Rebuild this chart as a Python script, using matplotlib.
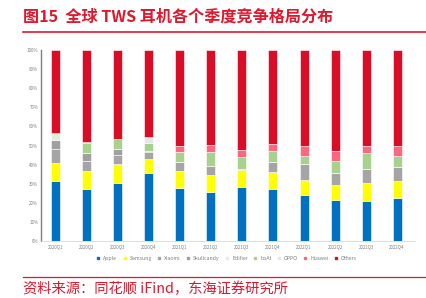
import matplotlib
matplotlib.use('Agg')
import matplotlib.pyplot as plt
import numpy as np
from matplotlib.lines import Line2D

plt.rcParams['font.family'] = ['Noto Sans CJK SC', 'DejaVu Sans']

quarters = ['2020Q1', '2020Q2', '2020Q3', '2020Q4', '2021Q1', '2021Q2',
            '2021Q3', '2021Q4', '2022Q1', '2022Q2', '2022Q3', '2022Q4']
brands = ['Apple', 'Samsung', 'Xiaomi', 'Skullcandy', 'Edifier', 'boAt', 'OPPO', 'Huawei', 'Others']

apple      = [31.3, 27.4, 30.4, 35.4, 27.9, 25.5, 28.1, 27.2, 24.1, 21.5, 20.9, 22.5]
samsung    = [ 9.4,  9.2,  9.7,  7.5,  8.6,  9.1,  9.1,  8.8,  7.8,  7.8,  9.3,  8.7]
xiaomi     = [ 7.5,  5.3,  4.8,  3.5,  5.0,  4.8,  0.6,  5.5,  8.2,  6.5,  7.3,  7.7]
skullcandy = [ 4.7,  4.3,  3.1,  0.9,  0.0,  0.0,  0.0,  0.0,  0.0,  0.0,  0.0,  0.0]
edifier    = [ 3.5,  0.0,  0.0,  0.0,  0.0,  0.0,  0.0,  0.0,  0.0,  0.0,  0.0,  0.0]
boat       = [ 0.0,  5.1,  5.4,  4.0,  4.9,  7.0,  6.3,  5.6,  4.6,  6.1,  8.4,  5.8]
oppo       = [ 0.0,  0.0,  0.0,  3.3,  0.0,  0.0,  0.0,  0.0,  0.0,  0.0,  0.0,  0.0]
huawei     = [ 0.0,  0.5,  0.0,  0.0,  3.5,  3.7,  3.5,  3.5,  5.2,  5.2,  4.0,  5.0]
others     = [43.6, 48.2, 46.5, 45.4, 50.1, 49.9, 52.4, 49.4, 50.1, 52.9, 50.1, 50.3]

series = [apple, samsung, xiaomi, skullcandy, edifier, boat, oppo, huawei, others]
colors = ['#0070C0', '#FFFF00', '#A5A5A5', '#A0A0A0', '#E2EFDA', '#A9D18E', '#E7E6E6', '#FF6680', '#D90D26']

red = '#E0182D'

fig = plt.figure(figsize=(4.27, 2.98), dpi=100)
ax = fig.add_axes([0.096, 0.191, 0.876, 0.641])

x = np.arange(len(quarters))
bottom = np.zeros(len(quarters))
for name, vals, c in zip(brands, series, colors):
    vals = np.array(vals)
    ax.bar(x, vals, 0.29, bottom=bottom, color=c, edgecolor='white', linewidth=0.4, label=name)
    bottom += vals

ax.set_xlim(-0.48, 11.58)
ax.set_ylim(0, 100)
ax.set_yticks(np.arange(0, 101, 10))
ax.set_yticklabels([f'{v}%' for v in range(0, 101, 10)], fontsize=3.2, color='#7F7F7F')
ax.set_xticks(x)
ax.set_xticklabels(quarters, fontsize=3.2, color='#7F7F7F')
ax.tick_params(axis='both', length=0, pad=2)
for s in ['top', 'right']:
    ax.spines[s].set_visible(False)
ax.spines['left'].set_color('#7F7F7F')
ax.spines['left'].set_linewidth(1.0)
ax.spines['bottom'].set_color('#D9D9D9')
ax.spines['bottom'].set_linewidth(0.6)

handles = [Line2D([], [], marker='s', linestyle='none', markersize=2.0,
                  markerfacecolor=c, markeredgecolor=c) for c in colors]
fig.legend(handles, brands, loc='center', bbox_to_anchor=(0.527, 0.134), ncol=9,
           frameon=False, fontsize=3.7, handletextpad=0.0, columnspacing=0.4,
           labelcolor='#7F7F7F')

# title and source
fig.text(0.054, 0.945, '图15  全球 TWS 耳机各个季度竞争格局分布', fontsize=11.6,
         fontweight='bold', color=red, va='center', ha='left')
fig.add_artist(Line2D([0.054, 1.0], [0.893, 0.893], color=red, linewidth=1.2))
fig.add_artist(Line2D([0.054, 1.0], [0.072, 0.072], color=red, linewidth=0.9))
fig.text(0.054, 0.030, '资料来源：同花顺 iFind，东海证券研究所', fontsize=10.3,
         color=red, va='center', ha='left')

fig.savefig('out.png', dpi=100)
